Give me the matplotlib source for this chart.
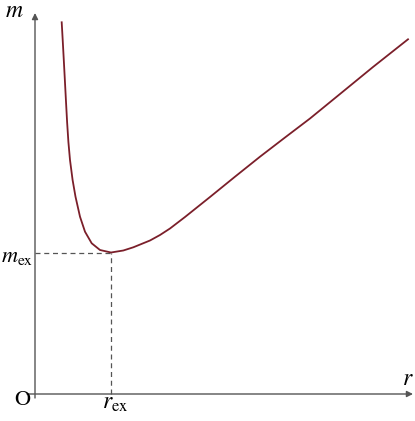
import numpy as np
import matplotlib.pyplot as plt

plt.rcParams['mathtext.fontset'] = 'stix'
plt.rcParams['font.family'] = 'STIXGeneral'

# curve (r, m), origin at the axes crossing
r = [26.7, 27.7, 28.7, 29.7, 31.0, 32.1, 33.4, 35.0, 37.6, 40.5, 45.0, 50.0,
     56.7, 65.0, 76.0, 88.3, 98.3, 115.0, 125.0, 135.0, 150.0, 175.0, 200.0,
     225.0, 250.0, 275.0, 305.0, 338.0, 373.0]
m = [371.7, 354.0, 335.7, 317.0, 292.3, 272.0, 252.0, 234.0, 214.0, 197.3,
     177.3, 162.3, 150.7, 144.0, 141.5, 143.5, 146.7, 153.5, 159.0, 165.5,
     177.0, 197.0, 217.3, 237.3, 256.5, 275.5, 300.0, 327.0, 354.7]
r_ex = 76.0
m_ex = 141.5

axis_col = '#555555'
curve_col = '#7b1f2a'

fig = plt.figure(figsize=(4.15, 4.21), dpi=100)
ax = fig.add_axes([0, 0, 1, 1])
ax.set_xlim(-35, 380)
ax.set_ylim(-27, 394)
ax.axis('off')

arrow = dict(arrowstyle='-|>', color=axis_col, lw=1.0, mutation_scale=9,
             shrinkA=0, shrinkB=0)
ax.annotate('', xy=(378, 0), xytext=(-8, 0), arrowprops=arrow)
ax.annotate('', xy=(0, 381), xytext=(0, -4), arrowprops=arrow)

ax.plot([0, r_ex], [m_ex, m_ex], color=axis_col, lw=0.9, ls=(0, (4, 3)))
ax.plot([r_ex, r_ex], [0, m_ex], color=axis_col, lw=0.9, ls=(0, (4, 3)))

ax.plot(r, m, color=curve_col, lw=1.3, solid_joinstyle='round')

ax.text(-20.5, 383, r'$m$', fontsize=17, ha='center', va='center')
ax.text(-34, 137, r'$m_{\rm ex}$', fontsize=16, ha='left', va='center')
ax.text(-12.5, -6, 'O', fontsize=16, ha='center', va='center')
ax.text(80, -9, r'$r_{\rm ex}$', fontsize=17, ha='center', va='center')
ax.text(373, 15, r'$r$', fontsize=17, ha='center', va='center')

fig.savefig('out.png', dpi=100)
